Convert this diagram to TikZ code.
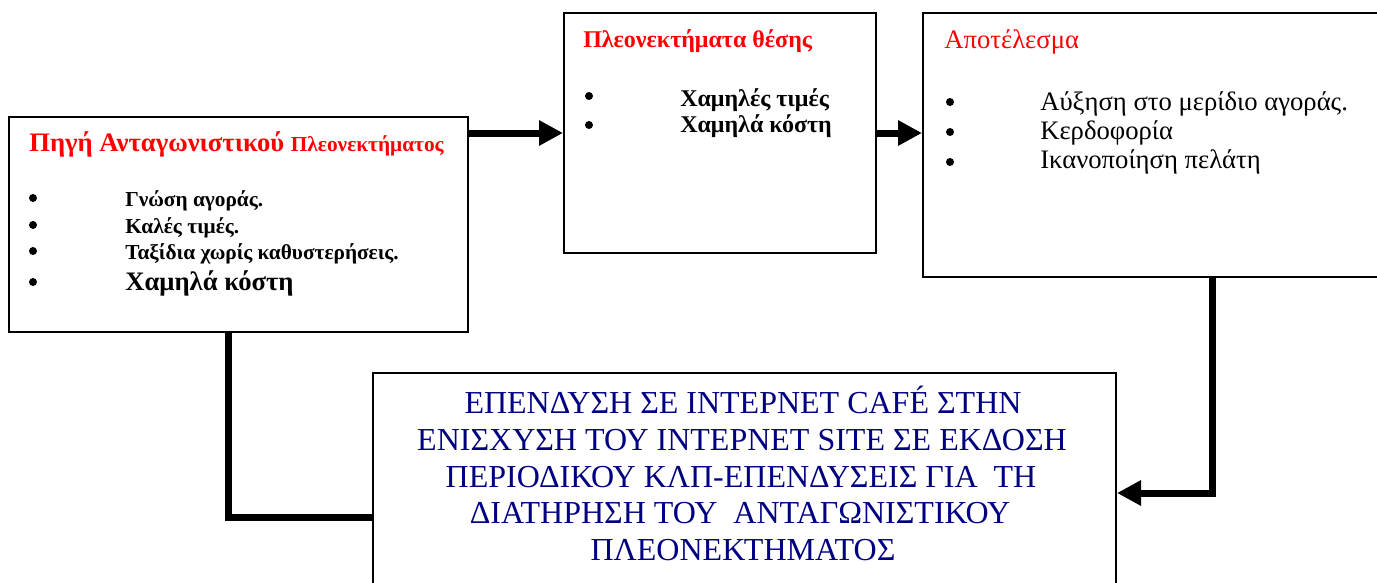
\documentclass[tikz,border=0pt]{standalone}
\usepackage{fontspec}
\setmainfont{Liberation Serif}
\usetikzlibrary{arrows.meta,calc}
\definecolor{hdred}{RGB}{255,0,0}
\definecolor{navy}{RGB}{0,0,128}
\begin{document}
\begin{tikzpicture}[x=0.75pt,y=-0.75pt,
  box/.style={draw=black,line width=1.5pt,fill=white,anchor=north west,inner sep=0pt},
  link/.style={line width=5.25pt,line join=miter,line cap=butt},
  tip/.style={-{Triangle[length=18pt,width=18pt]}},
  lbl/.style={anchor=base west,inner sep=0pt},
  mid/.style={anchor=base,inner sep=0pt,text=navy,font=\fontsize{24}{28}\selectfont},
  dot/.style={fill=black,circle,minimum size=6pt,inner sep=0pt,draw=none}
]
\clip (0,0) rectangle (1377,582);

% the four boxes
\node[box,minimum width=344.25pt,minimum height=161.25pt] (src) at (8,116) {};
\node[box,minimum width=234pt,minimum height=180pt] (pos) at (563,12) {};
\node[box,minimum width=351pt,minimum height=198pt] (res) at (922,12) {};
\node[box,minimum width=557.25pt,minimum height=171pt] (inv) at (372,372) {};

% connectors
\coordinate (lvl) at (700,133);
\coordinate (k1) at (228,517);
\coordinate (k2) at (1212,493);
\draw[link,tip] (src.east |- lvl) -- (pos.west |- lvl);
\draw[link,tip] (pos.east |- lvl) -- (res.west |- lvl);
\draw[link,tip] (res.south -| k2) -- (k2) -- (inv.east |- k2);
\draw[link] (src.south -| k1) -- (k1) -- (inv.west |- k1);

% source of the advantage
\node[lbl,text=hdred,font=\bfseries\fontsize{20}{24}\selectfont] (srcT) at (29,151)
  {Πηγή Ανταγωνιστικού {\fontsize{16}{19}\selectfont Πλεονεκτήματος}};
\begin{scope}[every node/.append style={font=\bfseries\fontsize{16}{19}\selectfont}]
\node[lbl] (s1) at (125,206) {Γνώση αγοράς.};
\node[lbl] (s2) at (125,233) {Καλές τιμές.};
\node[lbl] (s3) at (125,259) {Ταξίδια χωρίς καθυστερήσεις.};
\end{scope}
\node[lbl,font=\bfseries\fontsize{20}{24}\selectfont] (s4) at (125,290) {Χαμηλά κόστη};
\node[dot] (sd1) at (33,198) {};
\node[dot] (sd2) at (33,225) {};
\node[dot] (sd3) at (33,251) {};
\node[dot] (sd4) at (33,282) {};

% position advantages
\node[lbl,text=hdred,font=\bfseries\fontsize{18}{21}\selectfont] (posT) at (583,47) {Πλεονεκτήματα θέσης};
\node[lbl,font=\bfseries\fontsize{18}{21}\selectfont] (p1) at (680,106) {Χαμηλές τιμές};
\node[lbl,font=\bfseries\fontsize{18}{21}\selectfont] (p2) at (680,132) {Χαμηλά κόστη};
\node[dot] (pd1) at (589,96) {};
\node[dot] (pd2) at (589,125) {};

% result
\node[lbl,text=hdred,font=\fontsize{20}{24}\selectfont] (resT) at (944,48) {Αποτέλεσμα};
\begin{scope}[every node/.append style={font=\fontsize{20}{24}\selectfont}]
\node[lbl] (r1) at (1040,110) {Αύξηση στο μερίδιο αγοράς.};
\node[lbl] (r2) at (1040,139) {Κερδοφορία};
\node[lbl] (r3) at (1040,168) {Ικανοποίηση πελάτη};
\end{scope}
\node[dot] (rd1) at (950,102) {};
\node[dot] (rd2) at (950,132) {};
\node[dot] (rd3) at (950,162) {};

% investment
\node[mid] (i1) at (743,413) {ΕΠΕΝΔΥΣΗ ΣΕ ΙΝΤΕΡΝΕΤ CAFÉ ΣΤΗΝ};
\node[mid] (i2) at (742,450) {ΕΝΙΣΧΥΣΗ ΤΟΥ ΙΝΤΕΡΝΕΤ SITE ΣΕ ΕΚΔΟΣΗ};
\node[mid] (i3) at (741,487) {ΠΕΡΙΟΔΙΚΟΥ ΚΛΠ-ΕΠΕΝΔΥΣΕΙΣ ΓΙΑ\ \ ΤΗ};
\node[mid] (i4) at (740,523) {ΔΙΑΤΗΡΗΣΗ ΤΟΥ\ \ ΑΝΤΑΓΩΝΙΣΤΙΚΟΥ};
\node[mid] (i5) at (743,560) {ΠΛΕΟΝΕΚΤΗΜΑΤΟΣ};
\end{tikzpicture}
\end{document}
